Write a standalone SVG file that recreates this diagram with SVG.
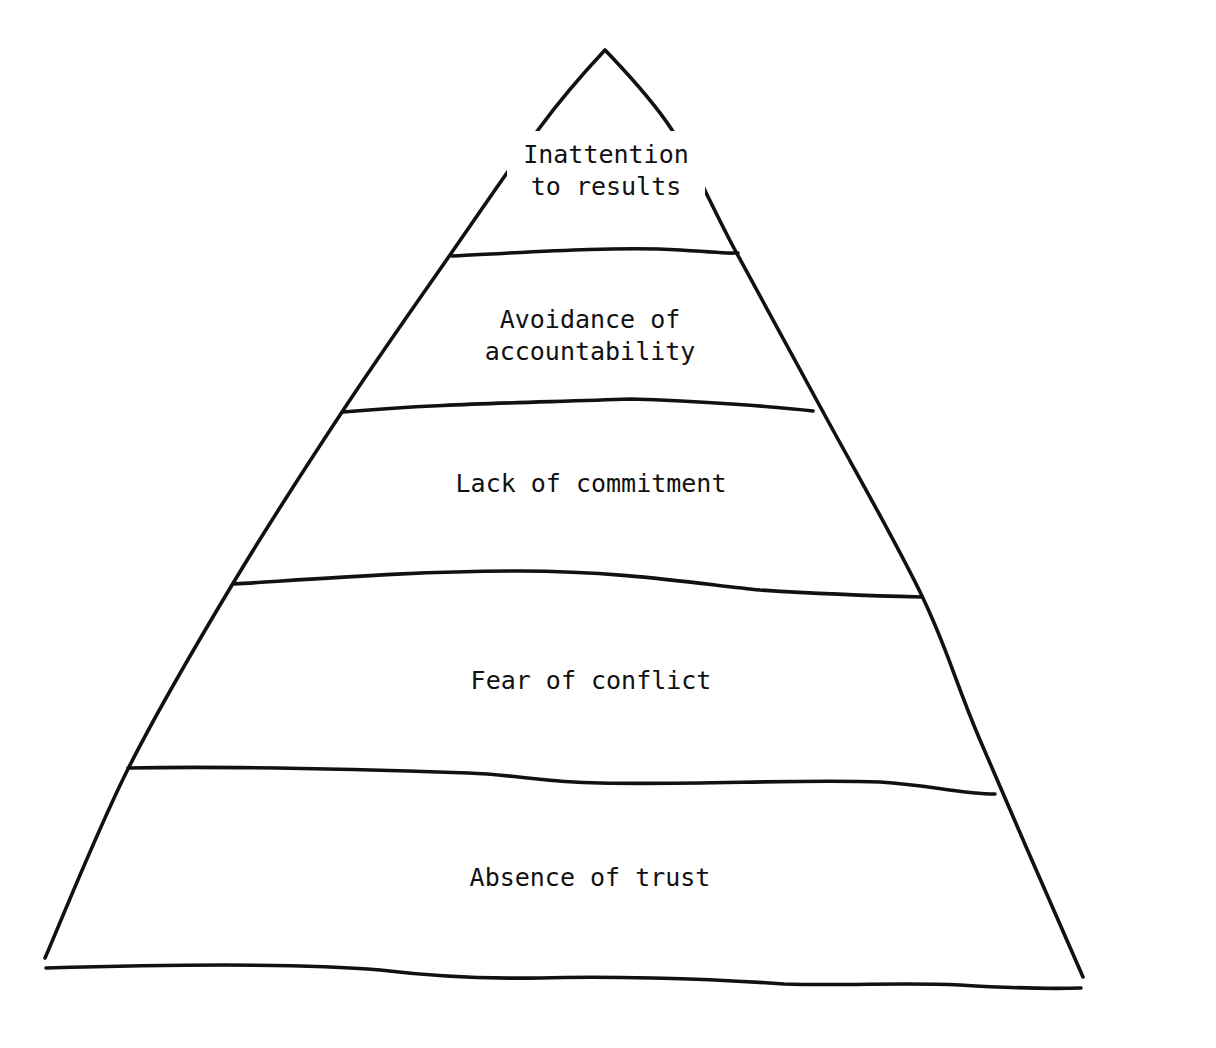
<svg xmlns="http://www.w3.org/2000/svg" width="1216" height="1048" viewBox="0 0 1216 1048">
<style>
.ln{fill:none;stroke:#111;stroke-width:3.6;stroke-linecap:round;stroke-linejoin:round}
.t{font-family:"DejaVu Sans Mono","Liberation Mono",monospace;font-size:25px;fill:#111;text-anchor:middle}
</style>
<rect x="0" y="0" width="1216" height="1048" fill="#fff"/>
<g id="pyramid">
<path class="ln" d="M45,958 C58.8,926.5 96.8,831.2 128,769 C159.2,706.8 196.3,644.5 232,585 C267.7,525.5 305.7,467 342,412 C378.3,357 417.3,302 450,255 C482.7,208 512.2,164.2 538,130 C560,100 590,66 605,50 C620,66 650.3,96.7 672,130 C693.7,163.3 710,203.3 735,250 C760,296.7 790.8,352.3 822,410 C853.2,467.7 895.7,541 922,596 C948.3,651 953.2,676.5 980,740 C1006.8,803.5 1065.8,937.5 1083,977"/>
<path class="ln" d="M452,256 C530,252 620,246 680,250 S725,253 738,253"/>
<path class="ln" d="M343,412 C430,404 520,403 630,399 C700,401 780,407 813,411"/>
<path class="ln" d="M234,584 C330,578 420,571 520,571 C620,571 700,584 760,590 C820,594 880,596 922,597"/>
<path class="ln" d="M128,768 C220,766 380,770 468,773 C520,775 540,782 600,783 C700,785 800,779 880,782 C930,785 960,794 995,794"/>
<path class="ln" d="M46,968 C150,965 300,963 380,970 C430,976 480,979 540,978 C600,976 700,978 784,984 C850,986 900,982 960,985 C1010,988 1050,989 1081,988"/>
</g>
<rect x="507" y="131" width="198" height="74" fill="#fff"/>
<g id="tier5"><text class="t" x="606" y="163">Inattention</text><text class="t" x="606" y="195">to results</text></g>
<g id="tier4"><text class="t" x="590" y="328">Avoidance of</text><text class="t" x="590" y="360">accountability</text></g>
<g id="tier3"><text class="t" x="591" y="492">Lack of commitment</text></g>
<g id="tier2"><text class="t" x="591" y="689">Fear of conflict</text></g>
<g id="tier1"><text class="t" x="590" y="886">Absence of trust</text></g>
<g id="connectors"></g>
</svg>
